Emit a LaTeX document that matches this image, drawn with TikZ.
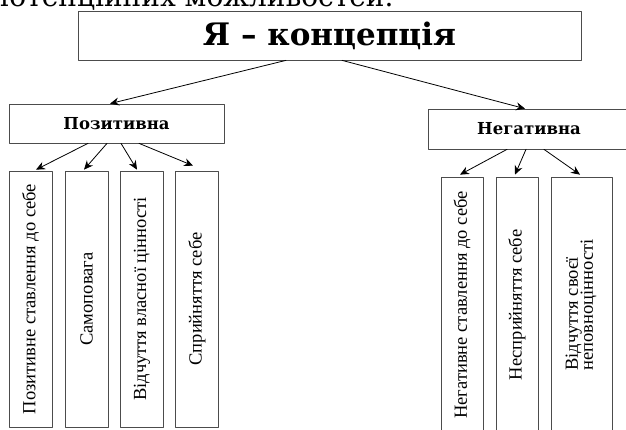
\documentclass[tikz,border=0pt]{standalone}
\usepackage{fontspec}
\setmainfont{Liberation Serif}
\newfontfamily\headfont{DejaVu Serif}
\usetikzlibrary{arrows.meta}
\begin{document}
\begin{tikzpicture}[x=1pt,y=-1pt,>={Stealth[length=9pt,width=8pt,inset=3pt]},line join=round,line cap=round]
\def\boxh{256pt}
\tikzset{box style/.style={draw=black!70,line width=0.7pt,inner sep=0pt},
  item style/.style={box style,minimum width=43pt,minimum height=\boxh,font=\fontsize{18.5}{19}\selectfont},
  arrow style/.style={->,line width=0.8pt}}
\clip (0,0) rectangle (626,429);
\useasboundingbox (0,0) rectangle (626,429);
\node[anchor=base east,font=\headfont\fontsize{28}{32}\selectfont] (intro) at (397,6) {потенційних можливостей.};
\node[box style,minimum width=503pt,minimum height=49pt,font=\headfont\bfseries\fontsize{31}{36}\selectfont] (top) at (329.5,35.5) {Я – концепція};
\node[box style,minimum width=215pt,minimum height=39pt,font=\headfont\bfseries\fontsize{16.5}{20}\selectfont] (pos) at (116.5,123.5) {Позитивна};
\node[box style,minimum width=202pt,minimum height=40pt,font=\headfont\bfseries\fontsize{16.5}{20}\selectfont] (neg) at (529,129) {Негативна};
% positive side
\node[item style] (p1) at (30.5,299) {\rotatebox{90}{Позитивне ставлення до себе}};
\node[item style] (p2) at (86.5,299) {\rotatebox{90}{Самоповага}};
\node[item style] (p3) at (142,299) {\rotatebox{90}{Відчуття власної цінності}};
\node[item style] (p4) at (197,299) {\rotatebox{90}{Сприйняття себе}};
% negative side
\node[item style,minimum width=42pt] (n1) at (462,305) {\rotatebox{90}{Негативне ставлення до себе}};
\node[item style,minimum width=42pt] (n2) at (517,305) {\rotatebox{90}{Несприйняття себе}};
\node[item style,minimum width=61pt] (n3) at (581.5,305) {\rotatebox{90}{\begin{tabular}{@{}l@{}}Відчуття своєї\\[-4pt]неповноцінності\end{tabular}}};
\draw[arrow style] ([xshift=-43.5pt]top.south) -- ([xshift=-6.5pt]pos.north);
\draw[arrow style] ([xshift=12.5pt]top.south) -- ([xshift=-4pt]neg.north);
\draw[arrow style] ([xshift=-28.5pt]pos.south) -- ([xshift=5.5pt,yshift=1pt]p1.north);
\draw[arrow style] ([xshift=-9.5pt]pos.south) -- ([xshift=-2.5pt,yshift=1pt]p2.north);
\draw[arrow style] ([xshift=4.5pt]pos.south) -- ([xshift=-5pt,yshift=1pt]p3.north);
\draw[arrow style] ([xshift=22.5pt]pos.south) -- ([xshift=-4pt,yshift=5pt]p4.north);
\draw[arrow style] ([xshift=-22pt]neg.south) -- ([xshift=-2pt,yshift=2pt]n1.north);
\draw[arrow style] ([xshift=-3pt]neg.south) -- ([xshift=-2pt,yshift=2pt]n2.north);
\draw[arrow style] ([xshift=15pt]neg.south) -- ([xshift=-1.5pt,yshift=2pt]n3.north);
\end{tikzpicture}
\end{document}
